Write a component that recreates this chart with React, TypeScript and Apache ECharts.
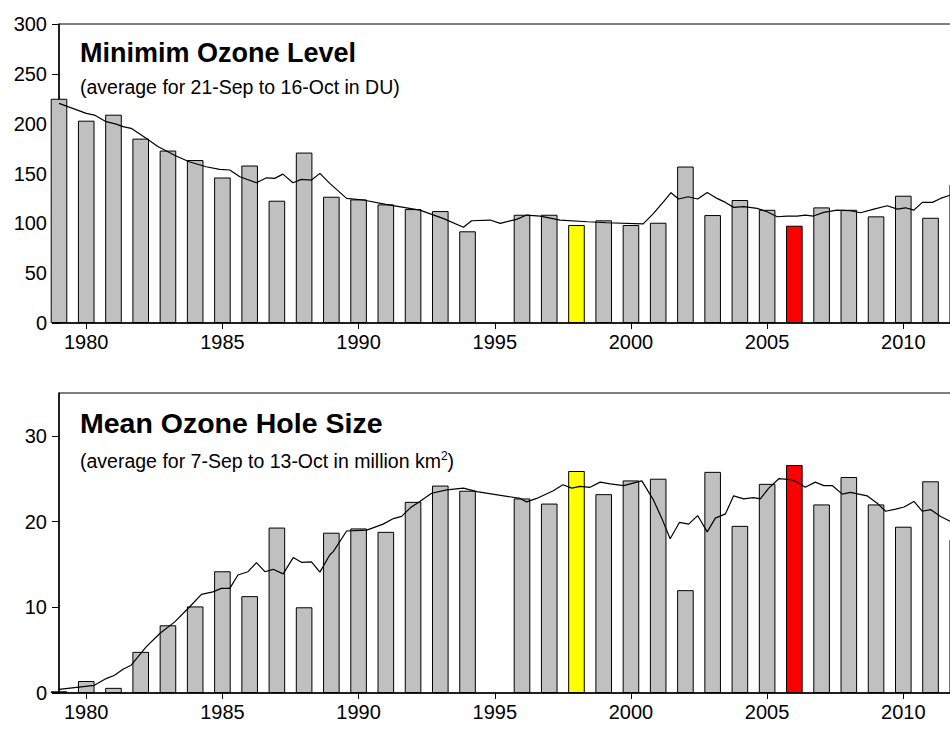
import React, { useEffect, useRef } from "react";
import * as echarts from "echarts";

const barYears = [
  1979, 1980, 1981, 1982, 1983, 1984, 1985, 1986, 1987, 1988, 1989, 1990, 1991, 1992, 1993, 1994,
  1996, 1997, 1998, 1999, 2000, 2001, 2002, 2003, 2004, 2005, 2006, 2007, 2008, 2009, 2010, 2011, 2012,
];
const ozoneMinimum = [
  225, 203, 209, 185, 173, 163.5, 146, 158, 122.7, 171, 126.7, 124, 119, 114.3, 112.3, 92,
  108.6, 108.6, 98.3, 103, 98.3, 100.6, 157, 108.3, 123.4, 113.6, 97.6, 116, 113.6, 107, 127.7, 105.6, 139,
];
const holeSize = [
  0.2, 1.4, 0.6, 4.8, 7.9, 10.1, 14.2, 11.3, 19.3, 10.0, 18.7, 19.2, 18.8, 22.3, 24.2, 23.6,
  22.7, 22.1, 25.9, 23.2, 24.8, 25.0, 12.0, 25.8, 19.5, 24.4, 26.6, 22.0, 25.2, 22.0, 19.4, 24.7, 17.9,
];
const yellowYears = [1998];
const redYears = [2006];

const ozoneLineYears = [
  1979.0, 1980.0, 1980.3, 1980.73, 1981.1, 1981.35, 1981.65, 1982.2, 1982.63, 1983.3, 1983.78, 1984.4,
  1984.9, 1985.27, 1985.64, 1986.25, 1986.62, 1986.92, 1987.22, 1987.59, 1987.9, 1988.27, 1988.58, 1988.94,
  1989.56, 1990.17, 1991.0, 1992.25, 1993.1, 1993.85, 1994.15, 1994.83, 1995.2, 1995.8, 1996.17, 1996.67,
  1997.4, 1998.4, 1999.1, 2000.45, 2000.83, 2001.2, 2001.47, 2001.75, 2002.1, 2002.45, 2002.8, 2003.16,
  2003.47, 2003.77, 2004.14, 2004.63, 2005.0, 2005.37, 2005.73, 2006.1, 2006.4, 2006.7, 2007.08, 2007.57,
  2008.06, 2008.43, 2008.92, 2009.41, 2009.78, 2010.08, 2010.39, 2010.7, 2011.07, 2011.37, 2011.74, 2012.2,
];
const ozoneLineValues = [
  220.4, 210.3, 208.6, 202, 199.6, 197, 195.3, 185.3, 177, 167.5, 161.8, 156.8,
  154.2, 153.5, 146.7, 140.7, 145.7, 145.1, 149.4, 140.7, 144.1, 143.4, 150.1, 140.1,
  125, 123.4, 119, 113.3, 105, 96, 102.6, 103.3, 100, 104, 108.3, 107.3,
  103.3, 101.6, 100.6, 99.5, 110, 121.7, 130.7, 124.4, 126.7, 124.4, 131, 125,
  121, 116, 116.7, 115, 111.6, 106.6, 107.3, 107.3, 108.3, 107.3, 111, 113.3,
  112.6, 110.6, 114.3, 117.6, 114.3, 115.6, 113.3, 121, 121, 125, 128.4, 133,
];

const holeLineYears = [
  1979.0, 1980.3, 1980.73, 1981.04, 1981.35, 1981.65, 1982.2, 1982.7, 1983.25, 1983.8, 1984.23, 1984.65,
  1984.96, 1985.27, 1985.57, 1985.94, 1986.25, 1986.56, 1986.86, 1987.23, 1987.6, 1987.9, 1988.27, 1988.58,
  1988.94, 1989.07, 1989.56, 1990.3, 1990.9, 1991.28, 1991.58, 1991.9, 1992.25, 1992.68, 1993.24, 1993.85,
  1994.34, 1995.93, 1996.17, 1996.54, 1997.15, 1997.5, 1997.83, 1998.14, 1998.5, 1998.87, 1999.24, 1999.73,
  2000.4, 2000.83, 2001.13, 2001.44, 2001.78, 2002.12, 2002.45, 2002.8, 2003.1, 2003.47, 2003.77, 2004.14,
  2004.5, 2004.75, 2005.06, 2005.43, 2005.86, 2006.1, 2006.4, 2006.77, 2007.08, 2007.39, 2007.76, 2008.06,
  2008.67, 2009.04, 2009.35, 2009.72, 2010.03, 2010.39, 2010.7, 2011.0, 2011.37, 2011.74, 2012.2,
];
const holeLineValues = [
  0.43, 0.9, 1.68, 2.07, 2.77, 3.24, 5.38, 6.94, 8.3, 10.06, 11.5, 11.8,
  12.2, 12.2, 13.77, 14.15, 15.2, 14.15, 14.43, 13.9, 15.8, 15.25, 15.3, 14.1,
  16.1, 16.5, 18.9, 19.0, 19.7, 20.35, 20.6, 21.6, 22.35, 23.3, 23.7, 23.9,
  23.5, 22.7, 22.3, 22.7, 23.6, 24.3, 23.9, 24.1, 24.0, 24.6, 24.4, 24.2,
  24.75, 22.5, 20.4, 18.0, 19.9, 19.7, 20.7, 18.8, 20.4, 20.9, 23.0, 22.65,
  22.8, 22.65, 23.9, 25.0, 24.9, 24.6, 24.0, 24.6, 24.2, 24.2, 23.2, 23.4,
  23.0, 22.15, 21.2, 21.45, 21.7, 22.35, 21.2, 21.4, 20.6, 20.0, 19.0,
];

const yearTicks = [1980, 1985, 1990, 1995, 2000, 2005, 2010];
const ozoneTicks = [0, 50, 100, 150, 200, 250, 300];
const holeTicks = [0, 10, 20, 30];

const FONT = "'Liberation Sans', Arial, Helvetica, sans-serif";

function barColor(year: number): string {
  if (yellowYears.includes(year)) return "#ffff00";
  if (redYears.includes(year)) return "#ff0000";
  return "#c0c0c0";
}

function barData(values: number[]) {
  return barYears.map((y, i) => ({
    value: [y, values[i]],
    itemStyle: { color: barColor(y) },
  }));
}

function lineData(xs: number[], ys: number[]) {
  return xs.map((x, i) => [x, ys[i]]);
}

export default function App() {
  const ref = useRef<HTMLDivElement>(null);

  useEffect(() => {
    document.documentElement.style.overflow = "hidden";
    document.body.style.overflow = "hidden";
    if (!ref.current) return;
    const chart = echarts.init(ref.current, null, { renderer: "svg" });

    const xAxisBase = (gridIndex: number) => ({
      type: "value",
      gridIndex,
      min: 1979,
      max: 2013,
      splitLine: { show: false },
      axisLine: { show: true, onZero: false, lineStyle: { color: "#000", width: 1.5 } },
      axisTick: { show: true, length: 6, lineStyle: { color: "#000", width: 1 }, customValues: yearTicks },
      axisLabel: {
        show: true,
        color: "#000",
        fontSize: 20,
        fontFamily: FONT,
        margin: 9,
        customValues: yearTicks,
        formatter: (v: number) => String(v),
      },
    });

    const yAxisBase = (gridIndex: number, max: number, ticks: number[]) => ({
      type: "value",
      gridIndex,
      min: 0,
      max,
      splitLine: { show: false },
      axisLine: { show: true, onZero: false, lineStyle: { color: "#000", width: 1.5 } },
      axisTick: { show: true, length: 7, lineStyle: { color: "#000", width: 1 }, customValues: ticks },
      axisLabel: {
        show: true,
        color: "#000",
        fontSize: 20,
        fontFamily: FONT,
        margin: 12,
        customValues: ticks,
      },
    });

    const option = {
      animation: false,
      backgroundColor: "#fff",
      grid: [
        { left: 59, top: 24, width: 926, height: 299, show: true, borderColor: "#000", borderWidth: 1 },
        { left: 59, top: 393, width: 926, height: 300, show: true, borderColor: "#000", borderWidth: 1 },
      ],
      xAxis: [xAxisBase(0), xAxisBase(1)],
      yAxis: [yAxisBase(0, 300, ozoneTicks), yAxisBase(1, 35, holeTicks)],
      series: [
        {
          type: "bar",
          xAxisIndex: 0,
          yAxisIndex: 0,
          barWidth: 16.6,
          clip: true,
          itemStyle: { borderColor: "#000", borderWidth: 1 },
          data: barData(ozoneMinimum),
        },
        {
          type: "line",
          xAxisIndex: 0,
          yAxisIndex: 0,
          showSymbol: false,
          clip: true,
          z: 5,
          lineStyle: { color: "#000", width: 1.2 },
          data: lineData(ozoneLineYears, ozoneLineValues),
        },
        {
          type: "bar",
          xAxisIndex: 1,
          yAxisIndex: 1,
          barWidth: 16.6,
          clip: true,
          itemStyle: { borderColor: "#000", borderWidth: 1 },
          data: barData(holeSize),
        },
        {
          type: "line",
          xAxisIndex: 1,
          yAxisIndex: 1,
          showSymbol: false,
          clip: true,
          z: 5,
          lineStyle: { color: "#000", width: 1.2 },
          data: lineData(holeLineYears, holeLineValues),
        },
      ],
      graphic: [
        {
          type: "text",
          x: 80,
          y: 53,
          z: 10,
          style: {
            text: "Minimim Ozone Level",
            fontSize: 27,
            fontWeight: "bold",
            fontFamily: FONT,
            fill: "#000",
            verticalAlign: "middle",
          },
        },
        {
          type: "text",
          x: 80,
          y: 87,
          z: 10,
          style: {
            text: "(average for 21-Sep to 16-Oct in DU)",
            fontSize: 19.5,
            fontFamily: FONT,
            fill: "#000",
            verticalAlign: "middle",
          },
        },
        {
          type: "text",
          x: 80,
          y: 423,
          z: 10,
          style: {
            text: "Mean Ozone Hole Size",
            fontSize: 28.5,
            fontWeight: "bold",
            fontFamily: FONT,
            fill: "#000",
            verticalAlign: "middle",
          },
        },
        {
          type: "text",
          x: 80,
          y: 461,
          z: 10,
          style: {
            text: "(average for 7-Sep to 13-Oct in million km{sup|2})",
            fontSize: 19.5,
            fontFamily: FONT,
            fill: "#000",
            verticalAlign: "middle",
            rich: {
              sup: { fontSize: 12, fontFamily: FONT, fill: "#000", verticalAlign: "top", lineHeight: 22 },
            },
          },
        },
      ],
    };

    chart.setOption(option as any);
    return () => chart.dispose();
  }, []);

  return (
    <div
      ref={ref}
      style={{ position: "fixed", left: 0, top: 0, width: 1000, height: 729, background: "#fff" }}
    />
  );
}
